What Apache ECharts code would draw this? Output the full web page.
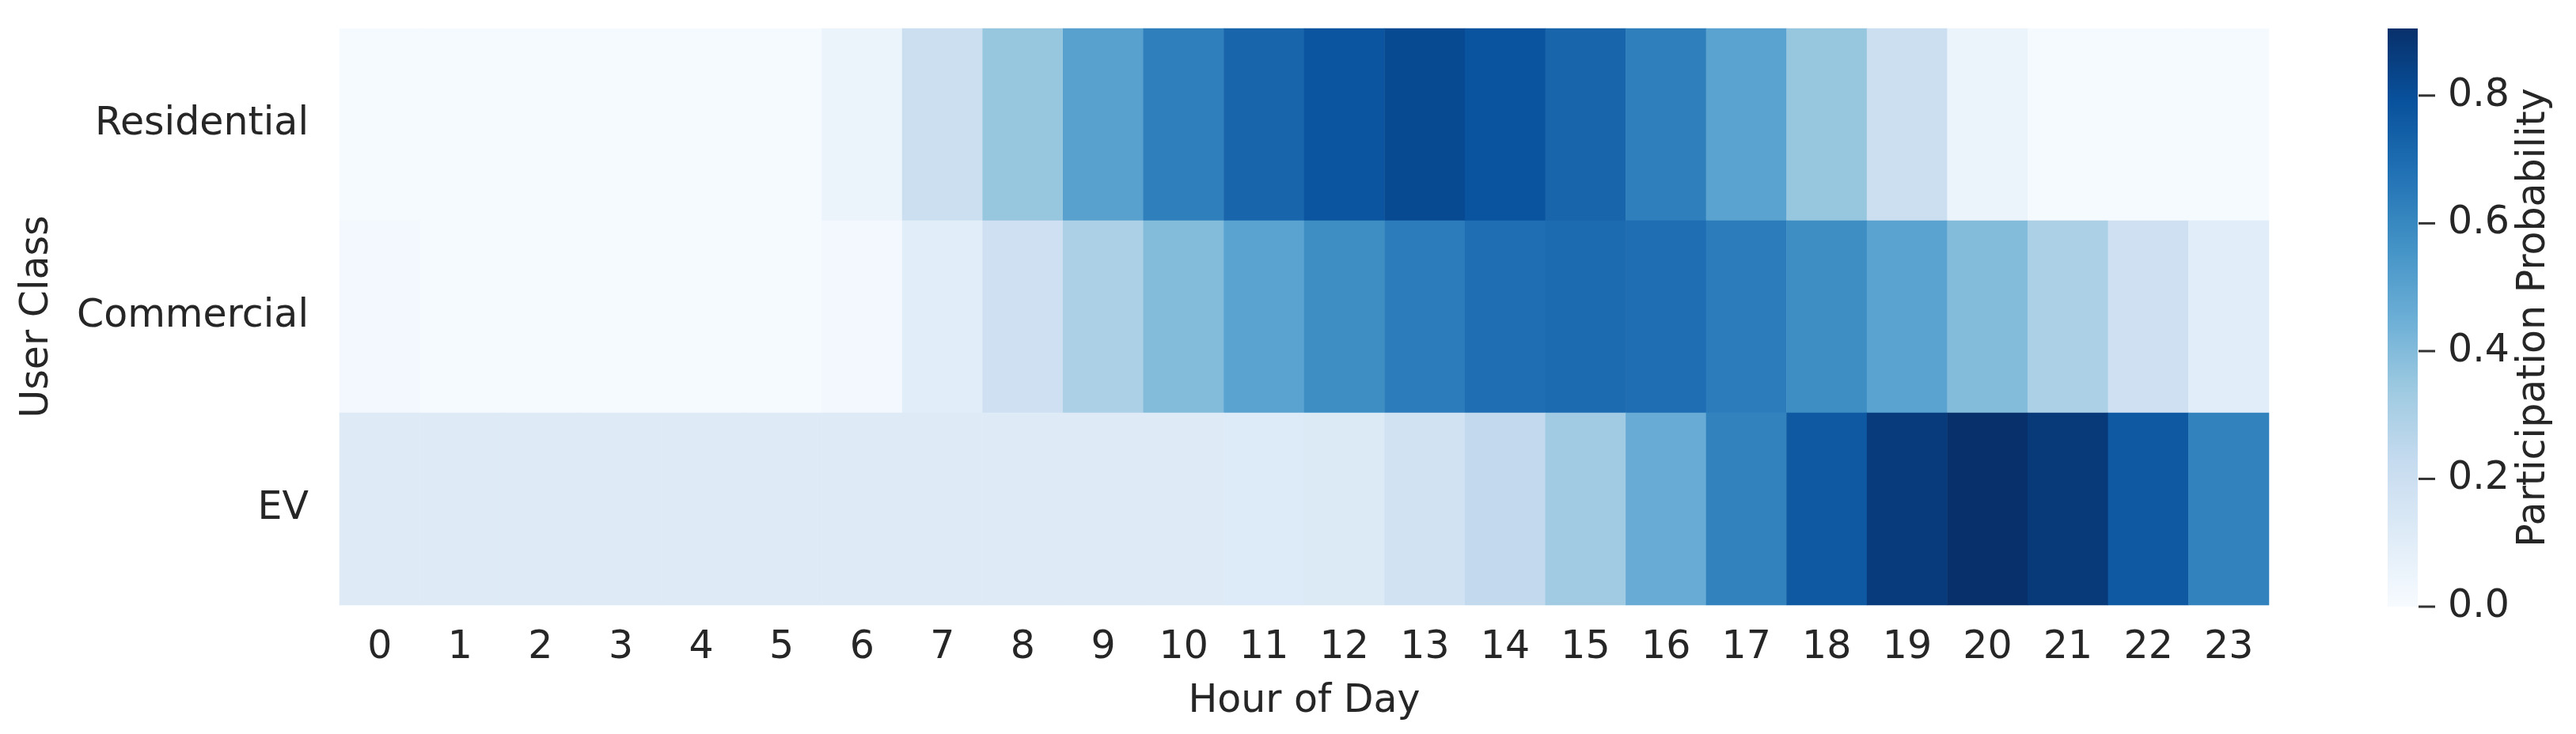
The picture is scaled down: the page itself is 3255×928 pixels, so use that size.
<!DOCTYPE html>
<html>
<head>
<meta charset="utf-8">
<script src="https://cdn.jsdelivr.net/npm/echarts@6/dist/echarts.min.js"></script>
<style>
html,body{margin:0;padding:0;background:#fff;}
#chart{width:3255px;height:928px;}
</style>
</head>
<body>
<div id="chart"></div>
<script>
var hours = ['0','1','2','3','4','5','6','7','8','9','10','11','12','13','14','15','16','17','18','19','20','21','22','23'];
var userClasses = ['Residential','Commercial','EV'];
var residential = [0.01,0.01,0.01,0.01,0.01,0.01,0.054,0.20,0.355,0.505,0.63,0.72,0.78,0.815,0.785,0.72,0.63,0.50,0.355,0.20,0.05,0.01,0.01,0.01];
var commercial  = [0.023,0.01,0.01,0.01,0.01,0.01,0.02,0.10,0.19,0.30,0.40,0.50,0.58,0.64,0.69,0.70,0.69,0.64,0.58,0.50,0.40,0.30,0.19,0.10];
var ev          = [0.113,0.113,0.113,0.113,0.113,0.113,0.113,0.113,0.113,0.113,0.115,0.117,0.122,0.175,0.235,0.33,0.46,0.62,0.765,0.867,0.905,0.87,0.765,0.62];
var colorbarTicks = [0.0,0.2,0.4,0.6,0.8];

var blues = ['#f7fbff','#deebf7','#c6dbef','#9ecae1','#6baed6','#4292c6','#2171b5','#08519c','#08306b'];
var rows = [residential, commercial, ev];
var data = [];
var vmax = 0;
rows.forEach(function(r, yi){
  r.forEach(function(v, xi){
    data.push([xi, yi, v]);
    if (v > vmax) vmax = v;
  });
});
var FONT = 'DejaVu Sans';
var TXT = '#262626';
var FS = 49;

var chart = echarts.init(document.getElementById('chart'), null, {renderer:'canvas'});
var gradStops = blues.map(function(c,i){ return {offset: i/(blues.length-1), color: c}; });

chart.setOption({
  backgroundColor:'#ffffff',
  animation:false,
  textStyle:{fontFamily:FONT, color:TXT},
  grid:[
    {left:429, top:36, width:2438, height:729, containLabel:false},
    {left:3017, top:36, width:38, height:731, containLabel:false}
  ],
  xAxis:[
    {type:'category', gridIndex:0, data:hours,
     axisLine:{show:false}, axisTick:{show:false}, splitLine:{show:false},
     axisLabel:{fontFamily:FONT, fontSize:FS, color:TXT, margin:30, interval:0},
     name:'Hour of Day', nameLocation:'middle', nameGap:98,
     nameTextStyle:{fontFamily:FONT, fontSize:FS, color:TXT}},
    {type:'value', gridIndex:1, min:0, max:1, show:false}
  ],
  yAxis:[
    {type:'category', gridIndex:0, data:userClasses, inverse:true,
     axisLine:{show:false}, axisTick:{show:false}, splitLine:{show:false},
     axisLabel:{fontFamily:FONT, fontSize:FS, color:TXT, margin:39},
     name:'User Class', nameLocation:'middle', nameGap:357, nameRotate:90,
     nameTextStyle:{fontFamily:FONT, fontSize:FS, color:TXT}},
    {type:'value', gridIndex:1, position:'right', min:0, max:vmax,
     axisLine:{show:false},
     axisTick:{show:false},
     splitLine:{show:false},
     axisLabel:{fontFamily:FONT, fontSize:FS, color:TXT, margin:38,
       customValues: colorbarTicks,
       formatter:function(v){ return Number(v).toFixed(1); }},
     name:'Participation Probability', nameLocation:'middle', nameGap:123, nameRotate:90,
     nameTextStyle:{fontFamily:FONT, fontSize:FS, color:TXT}}
  ],
  visualMap:{
    show:false, type:'continuous', min:0, max:vmax, seriesIndex:0, dimension:2,
    inRange:{color:blues}
  },
  series:[
    {type:'heatmap', xAxisIndex:0, yAxisIndex:0, data:data,
     itemStyle:{borderWidth:0}, emphasis:{disabled:true}},
    {type:'custom', xAxisIndex:1, yAxisIndex:1, data:[[0, vmax]], clip:false,
     renderItem:function(params, api){
       var top = api.coord([0, api.value(1)]);
       var bot = api.coord([0, 0]);
       var cs = params.coordSys;
       return {type:'rect',
         shape:{x:cs.x, y:top[1], width:cs.width, height:bot[1]-top[1]},
         style:{fill:new echarts.graphic.LinearGradient(0,1,0,0,gradStops)}};
     }},
    {type:'custom', xAxisIndex:1, yAxisIndex:1, clip:false, silent:true,
     data:colorbarTicks.map(function(v){ return [0, v]; }),
     renderItem:function(params, api){
       var p = api.coord([0, api.value(1)]);
       var cs = params.coordSys;
       var x0 = cs.x + cs.width + 1;
       return {type:'line',
         shape:{x1:x0, y1:p[1], x2:x0+21, y2:p[1]},
         style:{stroke:'#333333', lineWidth:3}};
     }}
  ]
});
</script>
</body>
</html>
